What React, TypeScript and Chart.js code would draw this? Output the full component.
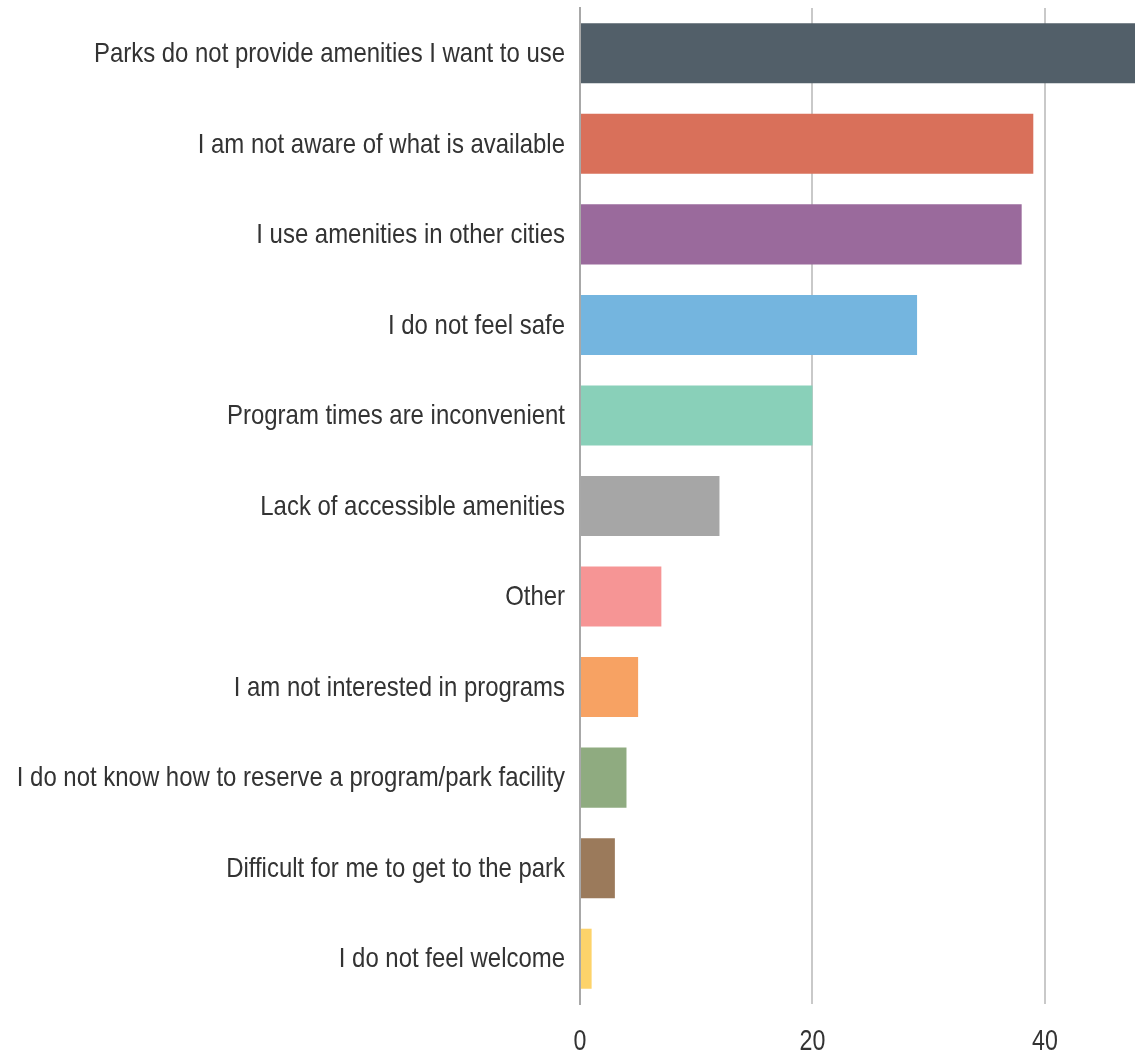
import React, { useEffect, useRef } from "react";
import { Chart, registerables } from "chart.js";

Chart.register(...registerables);

const categories = [
  "Parks do not provide amenities I want to use",
  "I am not aware of what is available",
  "I use amenities in other cities",
  "I do not feel safe",
  "Program times are inconvenient",
  "Lack of accessible amenities",
  "Other",
  "I am not interested in programs",
  "I do not know how to reserve a program/park facility",
  "Difficult for me to get to the park",
  "I do not feel welcome",
];

const values = [48, 39, 38, 29, 20, 12, 7, 5, 4, 3, 1];

const barColors = [
  "#525f69",
  "#d9705a",
  "#9a6a9c",
  "#74b5df",
  "#89d0b9",
  "#a6a6a6",
  "#f69595",
  "#f7a263",
  "#8fab80",
  "#9b7a5b",
  "#fdd36a",
];

const xMin = 0;
const xMax = 47.75;
const xStep = 20;

const FONT = "'Liberation Sans', Arial, sans-serif";
const TEXT_COLOR = "#333333";
const Y_FONT_SIZE = 28;
const X_FONT_SIZE = 29;
const Y_SQUEEZE = 0.855;
const X_SQUEEZE = 0.8;
const Y_PAD = 15;

// Draws the axis tick labels in a condensed (narrow) style, like Arial Narrow.
const condensedLabels = {
  id: "condensedLabels",
  afterDraw(chart: any) {
    const ctx: CanvasRenderingContext2D = chart.ctx;
    const ys = chart.scales.y;
    const xs = chart.scales.x;
    ctx.save();
    ctx.fillStyle = TEXT_COLOR;

    ctx.font = `${Y_FONT_SIZE}px ${FONT}`;
    ctx.textAlign = "right";
    ctx.textBaseline = "middle";
    ys.ticks.forEach((t: any, i: number) => {
      const py = ys.getPixelForTick(i);
      ctx.save();
      ctx.translate(ys.right - Y_PAD, py + 1);
      ctx.scale(Y_SQUEEZE, 1);
      ctx.fillText(String(t.label), 0, 0);
      ctx.restore();
    });

    ctx.font = `${X_FONT_SIZE}px ${FONT}`;
    ctx.textAlign = "center";
    ctx.textBaseline = "alphabetic";
    xs.ticks.forEach((t: any, i: number) => {
      const px = xs.getPixelForTick(i);
      ctx.save();
      ctx.translate(px, xs.top + 45.5);
      ctx.scale(X_SQUEEZE, 1);
      ctx.fillText(String(t.label), 0, 0);
      ctx.restore();
    });
    ctx.restore();
  },
};

export default function App() {
  const ref = useRef<HTMLCanvasElement | null>(null);

  useEffect(() => {
    if (!ref.current) return;
    const chart = new Chart(ref.current, {
      type: "bar",
      data: {
        labels: categories,
        datasets: [
          {
            data: values,
            backgroundColor: barColors,
            borderWidth: 0,
            barPercentage: 0.663,
            categoryPercentage: 1,
          },
        ],
      },
      options: {
        indexAxis: "y",
        animation: false,
        responsive: true,
        maintainAspectRatio: false,
        layout: { padding: { top: 8, right: 0, bottom: 0, left: 0 } },
        plugins: {
          legend: { display: false },
          tooltip: { enabled: false },
        },
        scales: {
          x: {
            min: xMin,
            max: xMax,
            z: 1,
            ticks: {
              stepSize: xStep,
              includeBounds: false,
              color: "rgba(0,0,0,0)",
              font: { family: FONT, size: X_FONT_SIZE },
              padding: 19,
              maxRotation: 0,
            },
            grid: {
              color: "rgba(120,120,120,0.4)",
              lineWidth: 2,
              drawTicks: false,
            },
            border: { display: false },
            afterFit: (scale: any) => {
              scale.height = 47;
              scale.paddingLeft = 0;
              scale.paddingRight = 0;
            },
          },
          y: {
            z: 1,
            ticks: {
              color: "rgba(0,0,0,0)",
              font: { family: FONT, size: Y_FONT_SIZE },
              padding: Y_PAD,
              autoSkip: false,
            },
            grid: { display: false, drawTicks: false },
            border: { display: true, color: "#a8a8a8", width: 2 },
            afterFit: (scale: any) => {
              scale.width = 580;
              scale.paddingTop = 0;
              scale.paddingBottom = 0;
            },
          },
        },
      },
      plugins: [condensedLabels],
    });
    return () => chart.destroy();
  }, []);

  return (
    <div
      style={{
        position: "absolute",
        left: 0,
        top: 0,
        width: 1135,
        height: 1051,
        background: "#ffffff",
      }}
    >
      <canvas ref={ref} />
    </div>
  );
}
